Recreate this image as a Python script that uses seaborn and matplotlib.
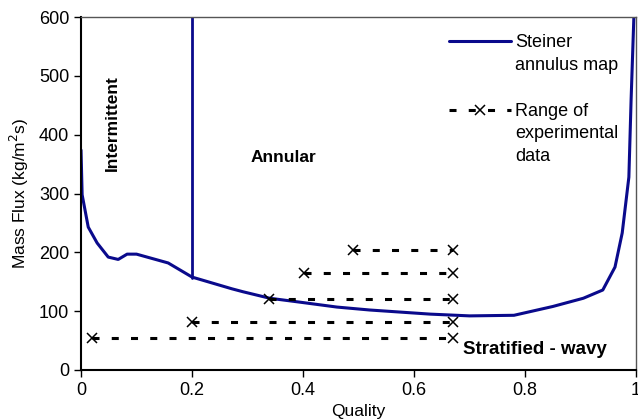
import pandas as pd
import matplotlib.pyplot as plt
import seaborn as sns

# Steiner annulus map boundary
steiner_x = [0.0, 0.002, 0.013, 0.029, 0.049, 0.067, 0.083, 0.10, 0.157, 0.2,
             0.236, 0.272, 0.292, 0.34, 0.389, 0.461, 0.52, 0.629, 0.70, 0.78,
             0.85, 0.905, 0.94, 0.962, 0.975, 0.987, 0.991, 0.996]
steiner_y = [374, 298, 243, 216, 192, 188, 197, 197, 182, 158,
             148, 138, 133, 122, 116, 107, 102, 95, 92, 93,
             108, 122, 136, 175, 233, 328, 459, 600]

# vertical intermittent/annular boundary
boundary_x = [0.2, 0.2]
boundary_y = [157, 600]

# experimental data ranges
range_start = [0.02, 0.2, 0.339, 0.402, 0.49]
range_end = [0.67, 0.67, 0.67, 0.67, 0.67]
range_flux = [54, 82, 121, 165, 204]

sns.set_theme(style="ticks")
plt.rcParams['font.family'] = ['Liberation Sans', 'DejaVu Sans']
plt.rcParams.update({'text.color': 'black', 'axes.labelcolor': 'black',
                     'xtick.color': 'black', 'ytick.color': 'black'})

fig = plt.figure(figsize=(6.38, 4.19), dpi=100)
ax = fig.add_axes([0.127, 0.117, 0.87, 0.842])

navy = '#0A0A8C'
dash = (0, (2.3, 4))
curve = pd.DataFrame({'x': steiner_x, 'y': steiner_y})
sns.lineplot(data=curve, x='x', y='y', sort=False, estimator=None,
             color=navy, lw=2.2, ax=ax)
sns.lineplot(x=boundary_x, y=boundary_y, sort=False, estimator=None,
             color=navy, lw=2, ax=ax)

for x0, x1, g in zip(range_start, range_end, range_flux):
    ax.plot([x0, x1], [g, g], color='black', lw=2.2, ls=dash,
            marker='x', ms=7, mew=1.1)

ax.set_xlim(0, 1)
ax.set_ylim(0, 600)
ax.set_xticks([0, 0.2, 0.4, 0.6, 0.8, 1])
ax.set_xticklabels(['0', '0.2', '0.4', '0.6', '0.8', '1'])
ax.set_yticks(range(0, 601, 100))
ax.tick_params(labelsize=13, length=5, width=1, direction='out')
ax.tick_params(axis='x', pad=4)
ax.set_xlabel('Quality', fontsize=12.5, labelpad=3)
ax.set_ylabel('Mass Flux (kg/m$^2$s)', fontsize=12.5, labelpad=6)

for s in ['left', 'bottom']:
    ax.spines[s].set_color('black')
    ax.spines[s].set_linewidth(1.5)
for s in ['top', 'right']:
    ax.spines[s].set_color('#555555')
    ax.spines[s].set_linewidth(1)

ax.text(0.056, 420, 'Intermittent', rotation=90, fontsize=12.5, fontweight='bold',
        ha='center', va='center')
ax.text(0.305, 362, 'Annular', fontsize=12.5, fontweight='bold', ha='left', va='center')
ax.text(0.688, 34, 'Stratified - wavy', fontsize=13.5, fontweight='bold',
        ha='left', va='center')

# legend, drawn by hand so the handles sit on the first label line
tr = ax.transAxes
ax.plot([0.663, 0.775], [0.932, 0.932], color=navy, lw=2.2, transform=tr, clip_on=False)
ax.plot([0.663, 0.719, 0.775], [0.737, 0.737, 0.737], color='black', lw=2.2, ls=dash,
        marker='x', ms=7, mew=1.1, markevery=[1], transform=tr, clip_on=False)
ax.text(0.782, 0.953, 'Steiner\nannulus map', fontsize=13, ha='left', va='top',
        linespacing=1.45, transform=tr)
ax.text(0.782, 0.758, 'Range of\nexperimental\ndata', fontsize=13, ha='left', va='top',
        linespacing=1.45, transform=tr)

fig.savefig('out.png', dpi=100)
